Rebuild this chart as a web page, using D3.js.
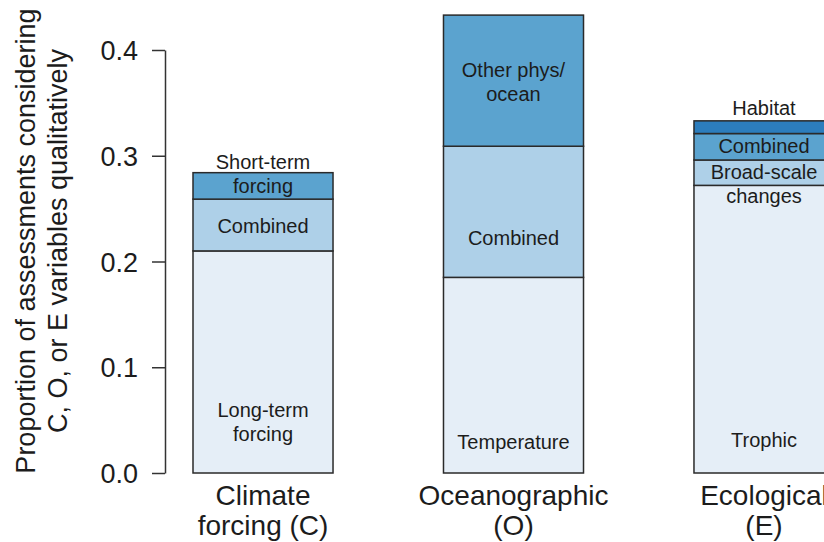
<!DOCTYPE html>
<html>
<head>
<meta charset="utf-8">
<script src="https://cdnjs.cloudflare.com/ajax/libs/d3/7.8.5/d3.min.js"></script>
<style>
  html, body { margin: 0; padding: 0; background: #fff; }
  svg { display: block; font-family: "Liberation Sans", Arial, sans-serif; }
</style>
</head>
<body>
<svg id="chart" width="824" height="542"></svg>
<script>
// Category keys and their two-line axis labels
const categories = ["C", "O", "E"];
const categoryLabels = [["Climate", "forcing (C)"], ["Oceanographic", "(O)"], ["Ecological", "(E)"]];

// Stacked components per category (bottom to top)
const climateParts = ["Long-term forcing", "Combined", "Short-term forcing"];
const climateValues = [0.210, 0.049, 0.025];
const oceanParts = ["Temperature", "Combined", "Other phys/ocean"];
const oceanValues = [0.185, 0.124, 0.124];
const ecoParts = ["Trophic", "Broad-scale changes", "Combined", "Habitat"];
const ecoValues = [0.272, 0.024, 0.025, 0.012];

// Y axis ticks
const yTicks = [0.0, 0.1, 0.2, 0.3, 0.4];
const yTickLabels = ["0.0", "0.1", "0.2", "0.3", "0.4"];

// Segment annotations: category, text lines, anchor value on the y scale
const segmentNotes = [
  { cat: "C", lines: ["Short-term"], at: 0.294 },
  { cat: "C", lines: ["forcing"], at: 0.2715 },
  { cat: "C", lines: ["Combined"], at: 0.2336 },
  { cat: "C", lines: ["Long-term", "forcing"], at: 0.0596 },
  { cat: "O", lines: ["Other phys/", "ocean"], at: 0.381 },
  { cat: "O", lines: ["Combined"], at: 0.222 },
  { cat: "O", lines: ["Temperature"], at: 0.0296 },
  { cat: "E", lines: ["Habitat"], at: 0.345 },
  { cat: "E", lines: ["Combined"], at: 0.309 },
  { cat: "E", lines: ["Broad-scale", "changes"], at: 0.285 },
  { cat: "E", lines: ["Trophic"], at: 0.0312 }
];

const layerColors = ["#e5eef7", "#aed0e8", "#5ba3cf", "#2c7dbd"];

const valuesByCat = { C: climateValues, O: oceanValues, E: ecoValues };
const layerKeys = [0, 1, 2, 3];
const table = categories.map(c => {
  const row = { cat: c };
  layerKeys.forEach(k => { row[k] = valuesByCat[c][k] || 0; });
  return row;
});
const stacked = d3.stack().keys(layerKeys)(table);

const svg = d3.select("#chart");
const textColor = "#1c1c1c";

const x = d3.scaleBand().domain(categories).range([193, 834]).paddingInner(0.441).paddingOuter(0);
const y = d3.scaleLinear().domain([0, 0.4]).range([473, 50]);

// Bars
const layers = svg.append("g").selectAll("g")
  .data(stacked)
  .join("g")
  .attr("fill", d => layerColors[d.key]);

layers.selectAll("rect")
  .data(d => d.filter(s => s[1] - s[0] > 0))
  .join("rect")
  .attr("x", d => x(d.data.cat))
  .attr("width", x.bandwidth())
  .attr("y", d => y(d[1]))
  .attr("height", d => y(d[0]) - y(d[1]))
  .attr("stroke", "#2a2a2a")
  .attr("stroke-width", 1.5);

// Y axis
const yAxis = d3.axisLeft(y)
  .tickValues(yTicks)
  .tickFormat((d, i) => yTickLabels[i])
  .tickSizeOuter(0)
  .tickSizeInner(13)
  .tickPadding(14);

const gy = svg.append("g").attr("transform", "translate(165,0)").call(yAxis);
gy.select(".domain").attr("stroke", "#333").attr("stroke-width", 1.5);
gy.selectAll(".tick line").attr("stroke", "#333").attr("stroke-width", 1.5);
gy.selectAll(".tick text")
  .attr("fill", textColor)
  .style("font-size", "27px")
  .attr("dy", "0.36em");

// Y axis title
const title = svg.append("text")
  .attr("transform", "translate(35,241) rotate(-90)")
  .attr("text-anchor", "middle")
  .attr("fill", textColor)
  .style("font-size", "27px");
title.append("tspan").attr("x", 0).attr("y", 0).text("Proportion of assessments considering");
title.append("tspan").attr("x", 0).attr("y", 32).text("C, O, or E variables qualitatively");

// Category labels
categories.forEach((c, i) => {
  const t = svg.append("text")
    .attr("text-anchor", "middle")
    .attr("fill", textColor)
    .style("font-size", "28px");
  const cx = x(c) + x.bandwidth() / 2;
  categoryLabels[i].forEach((line, j) => {
    t.append("tspan").attr("x", cx).attr("y", 505 + j * 30).text(line);
  });
});

// Segment labels
segmentNotes.forEach(n => {
  const cx = x(n.cat) + x.bandwidth() / 2;
  const t = svg.append("text")
    .attr("text-anchor", "middle")
    .attr("fill", textColor)
    .style("font-size", "20px");
  n.lines.forEach((line, j) => {
    t.append("tspan").attr("x", cx).attr("y", y(n.at) + 7 + j * 24).text(line);
  });
});
</script>
</body>
</html>
